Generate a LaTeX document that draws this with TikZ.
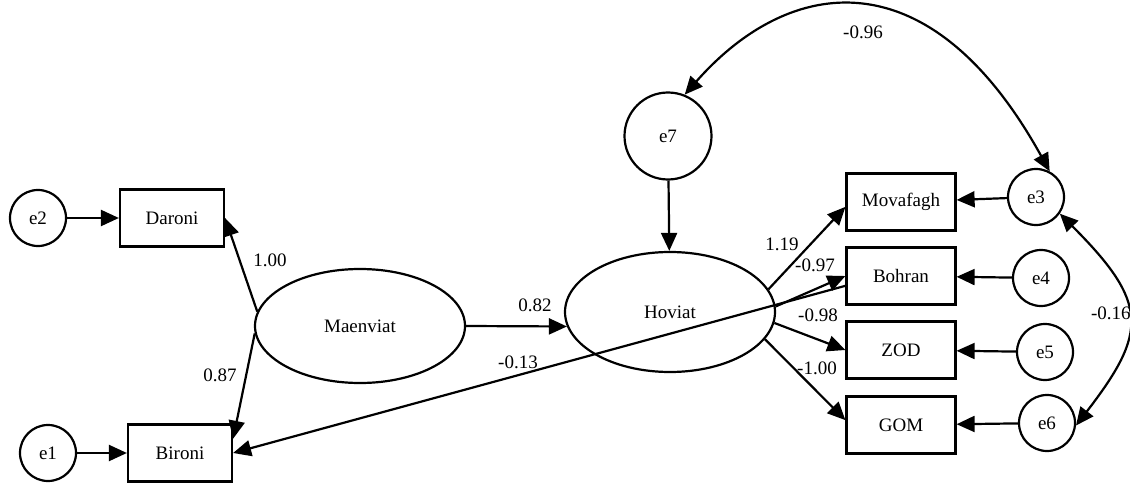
\documentclass[tikz,border=0pt]{standalone}
\usepackage{fontspec}
\setmainfont{Liberation Serif}
\usetikzlibrary{shapes.geometric,arrows.meta}
\tikzset{
	errc/.style={draw,circle,minimum size=56pt,inner sep=0pt},
	obs/.style={draw,rectangle,minimum width=104pt,minimum height=57pt,inner sep=0pt},
	lat/.style={draw,ellipse,minimum width=210pt,minimum height=114pt,inner sep=0pt},
	link/.style={-{Triangle[length=18pt,width=16pt]}},
	corr/.style={{Triangle[length=18pt,width=16pt]}-{Triangle[length=18pt,width=16pt]}},
	coef/.style={inner sep=0pt}
}
\begin{document}
\begin{tikzpicture}[x=1pt,y=-1pt,line width=2.2pt,font=\fontsize{19}{22}\selectfont]
	\useasboundingbox (0,0) rectangle (1130,484);
	\node[errc] (e2) at (38,218) {e2};
	\node[obs] (dar) at (172,218) {Daroni};
	\node[errc] (e1) at (48,453) {e1};
	\node[obs] (bir) at (180,453) {Bironi};
	\node[lat] (maen) at (360,326) {Maenviat};
	\node[lat,minimum height=120pt] (hov) at (670,312) {Hoviat};
	\node[errc,minimum size=87pt] (e7) at (668,136) {e7};
	\node[obs,minimum width=109pt] (mov) at (901,202) {Movafagh};
	\node[obs,minimum width=109pt] (boh) at (901,276) {Bohran};
	\node[obs,minimum width=109pt] (zod) at (901,350) {ZOD};
	\node[obs,minimum width=109pt] (gom) at (901,425) {GOM};
	\node[errc] (e3) at (1036,197) {e3};
	\node[errc] (e4) at (1041,278) {e4};
	\node[errc] (e5) at (1045,352) {e5};
	\node[errc] (e6) at (1047,423) {e6};
	\draw[link] (e2) -- (dar);
	\draw[link] (e1) -- (bir);
	\draw[link] (maen.172) -- (dar.east);
	\draw[link] (maen.184) -- (bir.15);
	\draw[link] (maen.east) -- (hov.188);
	\draw[link] (e7) -- (hov);
	\draw[link] (hov.13) -- (mov.185);
	\draw[link] (hov.3) -- (boh.west);
	\draw[link] (hov.-6) -- (zod.west);
	\draw[link] (hov.-16) -- (gom.175);
	\draw[link] (boh.190) -- (bir.east);
	\draw[link] (e3) -- (mov);
	\draw[link] (e4) -- (boh);
	\draw[link] (e5) -- (zod);
	\draw[link] (e6) -- (gom);
	\draw[corr] (e3.62) .. controls (930,-45) and (790,-25) .. (e7.68);
	\draw[corr] (e3.-35) .. controls (1149,303) and (1148,332) .. (e6.-5);
	\node[coef] (c1) at (270,260) {1.00};
	\node[coef] (c2) at (220,375) {0.87};
	\node[coef] (c3) at (535,305) {0.82};
	\node[coef] (c4) at (518,362) {-0.13};
	\node[coef] (c5) at (782,244) {1.19};
	\node[coef] (c6) at (815,265) {-0.97};
	\node[coef] (c7) at (818,315) {-0.98};
	\node[coef] (c8) at (817,368) {-1.00};
	\node[coef] (c9) at (863,32) {-0.96};
	\node[coef,anchor=west] (c10) at (1090,313) {-0.16};
\end{tikzpicture}
\end{document}
